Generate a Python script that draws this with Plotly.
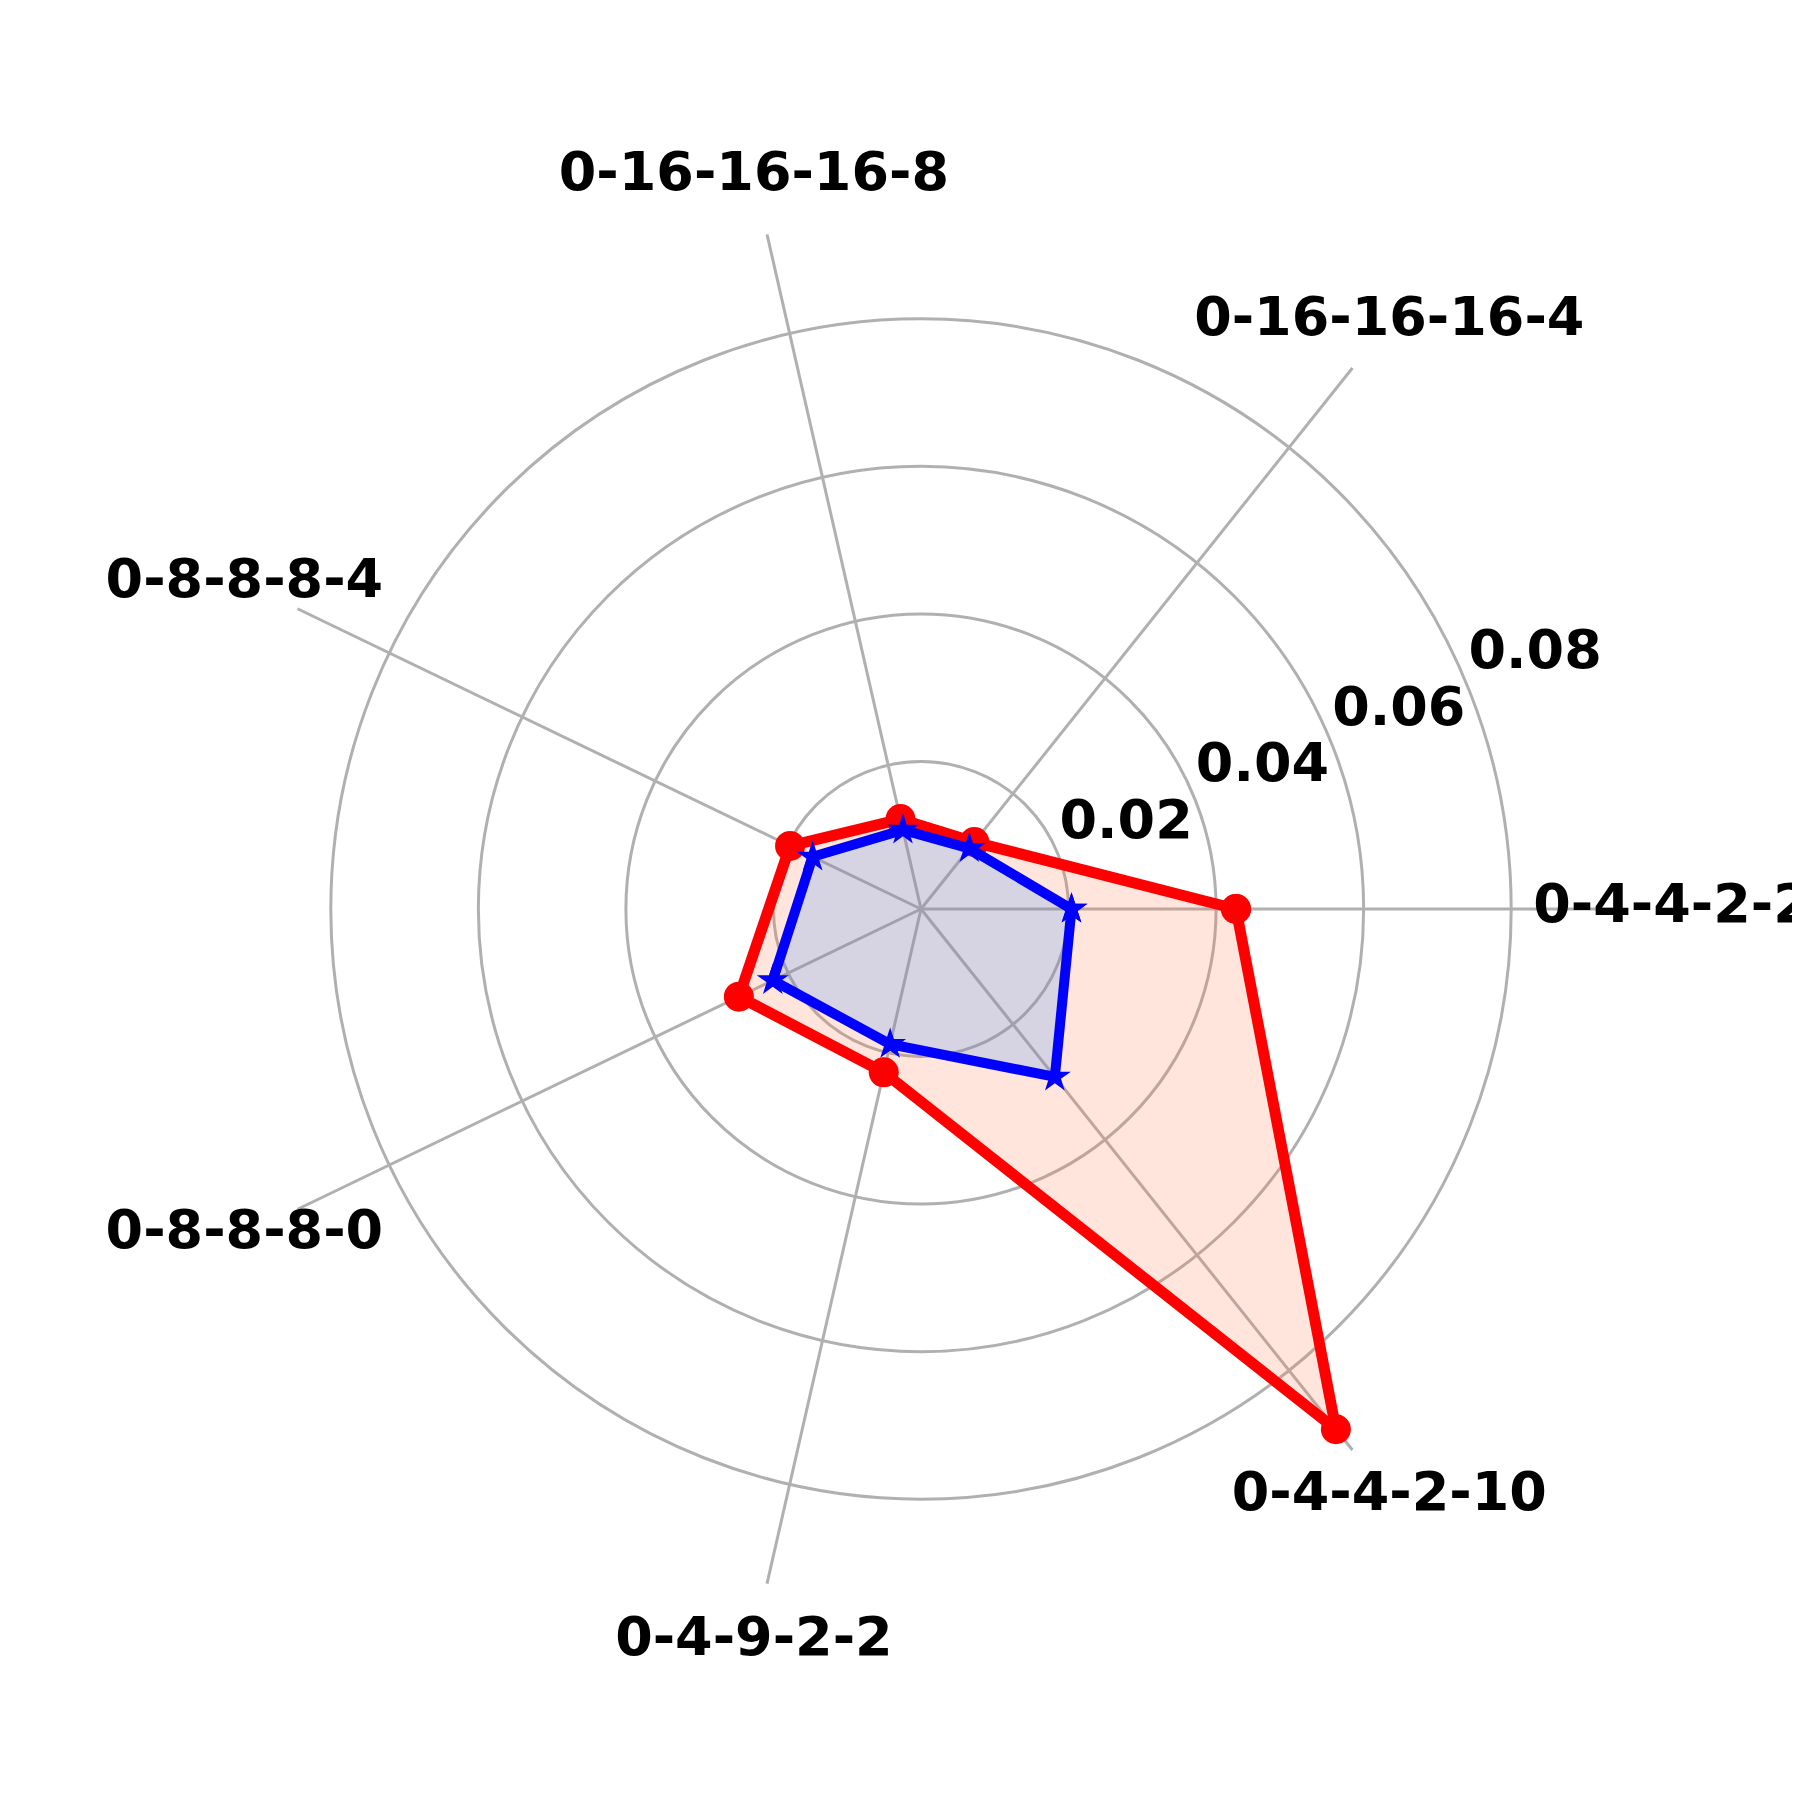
import plotly.graph_objects as go

# --- data ---
categories = ["0-4-4-2-2", "0-16-16-16-4", "0-16-16-16-8", "0-8-8-8-4",
              "0-8-8-8-0", "0-4-9-2-2", "0-4-4-2-10"]
red_vals = [0.0427, 0.0116, 0.0125, 0.0197, 0.0274, 0.0227, 0.0902]
blue_vals = [0.0204, 0.0105, 0.0110, 0.0163, 0.0223, 0.0188, 0.0291]
radial_ticks = [0.02, 0.04, 0.06, 0.08]
radial_ticktext = ["0.02", "0.04", "0.06", "0.08"]

r_max = 0.0938        # radial range of the main plot
label_r = 0.1018      # where the category labels sit
label_r_max = 0.11    # range of the overlay polar used for labels
tick_label_angle = 22.5

# geometry of the polar area (pixels, 1800x1800 page)
W = H = 1800
cx, cy = 913, 1800 - 901   # centre, y measured from bottom
px_per_unit = 692 / r_max


def domain(rmax):
    rad = rmax * px_per_unit
    return dict(x=[(cx - rad) / W, (cx + rad) / W], y=[(cy - rad) / H, (cy + rad) / H])


# one spoke per category, counter-clockwise from east
angles = [i * 360 / len(categories) for i in range(len(categories))]
closed_angles = angles + angles[:1]

font = dict(family="DejaVu Sans", size=54, color="black", weight="bold")

fig = go.Figure()

# red series
fig.add_trace(go.Scatterpolar(
    r=red_vals + red_vals[:1], theta=closed_angles,
    mode="lines+markers", fill="toself",
    fillcolor="rgba(255,127,80,0.2)",
    line=dict(color="red", width=11),
    marker=dict(color="red", size=30, symbol="circle"),
    hoverinfo="skip"))

# blue series
fig.add_trace(go.Scatterpolar(
    r=blue_vals + blue_vals[:1], theta=closed_angles,
    mode="lines+markers", fill="toself",
    fillcolor="rgba(50,140,250,0.2)",
    line=dict(color="blue", width=10),
    marker=dict(color="blue", size=24, symbol="star"),
    hoverinfo="skip"))

# radial tick labels
fig.add_trace(go.Scatterpolar(
    r=[t + 0.0101 for t in radial_ticks], theta=[tick_label_angle] * len(radial_ticks),
    text=radial_ticktext, mode="text", textposition="middle center",
    textfont=font, cliponaxis=False, hoverinfo="skip"))

# category labels on an invisible, larger polar sharing the same centre
fig.add_trace(go.Scatterpolar(
    r=[label_r] * len(categories), theta=angles, text=categories,
    mode="text", textposition="middle center", textfont=font,
    cliponaxis=False, hoverinfo="skip", subplot="polar2"))

hidden_axis = dict(showgrid=False, showticklabels=False, ticks="", showline=False)

fig.update_layout(
    width=W, height=H,
    margin=dict(l=0, r=0, t=0, b=0),
    paper_bgcolor="white",
    showlegend=False,
    polar=dict(
        domain=domain(r_max),
        bgcolor="white",
        radialaxis=dict(range=[0, r_max], tickvals=radial_ticks,
                        showticklabels=False, ticks="", showline=False,
                        gridcolor="#b0b0b0", gridwidth=2.5),
        angularaxis=dict(type="linear", thetaunit="degrees",
                         rotation=0, direction="counterclockwise",
                         tickmode="array", tickvals=angles,
                         showticklabels=False, ticks="", showline=False,
                         gridcolor="#b0b0b0", gridwidth=2.5),
    ),
    polar2=dict(
        domain=domain(label_r_max),
        bgcolor="rgba(0,0,0,0)",
        radialaxis=dict(range=[0, label_r_max], **hidden_axis),
        angularaxis=dict(type="linear", thetaunit="degrees",
                         rotation=0, direction="counterclockwise",
                         **hidden_axis),
    ),
)

fig.write_html("out.html")
